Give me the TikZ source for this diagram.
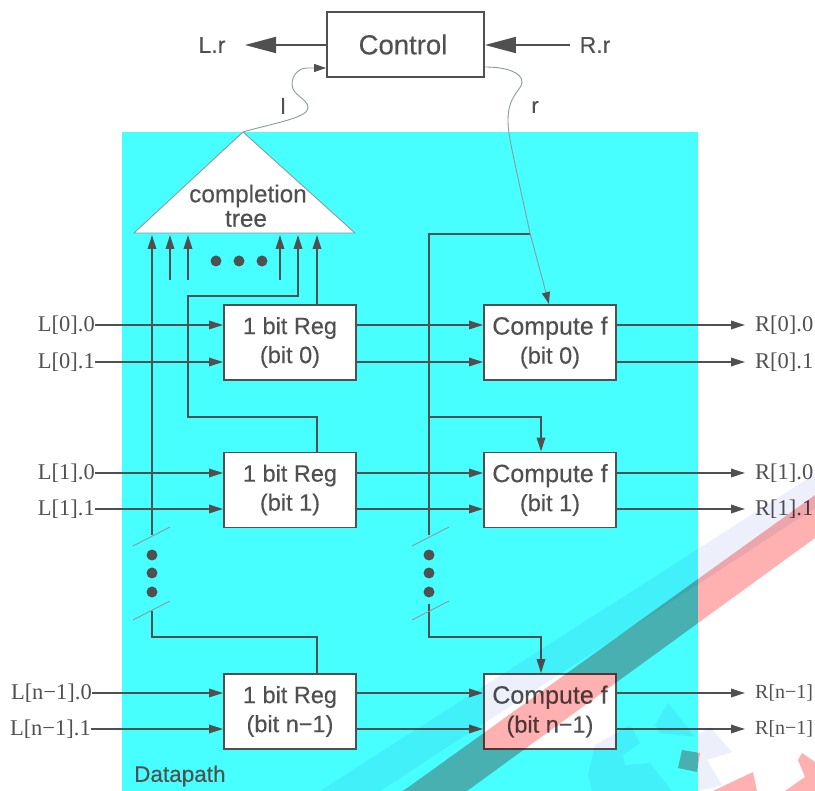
\documentclass[tikz,border=0pt]{standalone}
\usepackage{fontspec}
\setmainfont{Liberation Sans}[FakeBold=0.3]
\newfontfamily\serifL{Liberation Serif}
\usetikzlibrary{arrows.meta,calc}
\definecolor{cy}{HTML}{48FFFF}
\definecolor{ink}{HTML}{505050}
\definecolor{thin}{HTML}{8A9A9A}
\definecolor{wmred}{HTML}{FFB0B0}
\definecolor{wmpale}{HTML}{EDF0FA}
\tikzset{
  sig/.style={draw=ink,line width=1.8pt,-{Triangle[length=14pt,width=8.5pt]}},
  bus/.style={draw=ink,line width=1.8pt},
  bigar/.style={draw=ink,line width=1.8pt,-{Triangle[length=31pt,width=16pt]}},
  wire/.style={draw=thin,line width=0.9pt},
  wirear/.style={wire,-{Triangle[length=12pt,width=8pt,color=ink]}},
  slash/.style={draw=thin,line width=0.9pt},
  bx/.style={draw=ink,fill=white,line width=1.9pt,minimum width=132pt,minimum height=75pt,inner sep=0pt,
    text=ink,align=center,font=\fontsize{23.5}{29}\selectfont},
  dotn/.style={circle,fill=ink,draw=none,minimum size=11pt,inner sep=0pt},
  lab/.style={text=ink,inner sep=0pt,font=\fontsize{24.3}{23}\selectfont},
  io/.style={text=ink,inner sep=0pt,font=\serifL\fontsize{22.5}{24}\selectfont},
}
\begin{document}
\begin{tikzpicture}[x=1pt,y=-1pt]
\useasboundingbox (0,0) rectangle (815,791);
\fill[cy] (122,132) rectangle (698,791);
% completion tree
\coordinate (apex) at (243,132);
\coordinate (bl) at (134,233);
\coordinate (br) at (355,233);
\filldraw[fill=white,draw=thin,line width=0.9pt] (apex) -- (br) -- (bl) -- cycle;
\node[lab] (tree1) at (248,196) {completion};
\node[lab] (tree2) at (246,219) {tree};
\node[draw=ink,fill=white,line width=1.9pt,minimum width=157pt,minimum height=65pt,inner sep=0pt,text=ink,
  font=\fontsize{27.5}{28}\selectfont] (ctrl) at (405.5,44.5) {Control\kern 5pt};
% boxes
\foreach \n/\y/\t in {0/342.5/bit 0,1/490/bit 1,2/711.5/bit n−1}{
  \node[bx] (reg\n) at (290,\y) {1 bit Reg\\(\t)};
  \node[bx,font=\fontsize{25}{29}\selectfont] (cmp\n) at (550,\y) {Compute f\\\fontsize{23.5}{29}\selectfont(\t)};
}
% io labels
\node[io,anchor=east] (L00) at (95,325) {L[0].0};
\node[io,anchor=east] (L01) at (95,362) {L[0].1};
\node[io,anchor=east] (L10) at (95,473) {L[1].0};
\node[io,anchor=east] (L11) at (95,509) {L[1].1};
\node[io,anchor=east] (L20) at (92,693) {L[n−1].0};
\node[io,anchor=east] (L21) at (91,729) {L[n−1].1};
\node[io,anchor=west] (R00) at (755,325) {R[0].0};
\node[io,anchor=west] (R01) at (755,362) {R[0].1};
\node[io,anchor=west] (R10) at (755,473) {R[1].0};
\node[io,anchor=west] (R11) at (755,509) {R[1].1};
\node[io,anchor=west,font=\serifL\fontsize{20}{24}\selectfont] (R20) at (755,693) {R[n−1]};
\node[io,anchor=west,font=\serifL\fontsize{20}{24}\selectfont] (R21) at (755,729) {R[n−1]};
% horizontal signals
\foreach \r/\a/\b in {0/0/1,1/0/1,2/0/1}{
  \draw[sig] (L\r\a.east) -- (L\r\a.east -| reg\r.west);
  \draw[sig] (L\r\b.east) -- (L\r\b.east -| reg\r.west);
  \draw[sig] (L\r\a.east -| reg\r.east) -- (L\r\a.east -| cmp\r.west);
  \draw[sig] (L\r\b.east -| reg\r.east) -- (L\r\b.east -| cmp\r.west);
  \draw[sig] (L\r\a.east -| cmp\r.east) -- (745,0 |- L\r\a.east);
  \draw[sig] (L\r\b.east -| cmp\r.east) -- (745,0 |- L\r\b.east);
}
% completion tree inputs
\coordinate (a1) at (152,235); \coordinate (a2) at (170,235); \coordinate (a3) at (188,235);
\coordinate (a4) at (280,235); \coordinate (a5) at (298,235); \coordinate (a6) at (317,235);
\coordinate (s2) at (170,280); \coordinate (s3) at (188,280); \coordinate (s4) at (280,280);
\draw[sig] (s2) -- (a2);
\draw[sig] (s3) -- (a3);
\draw[sig] (s4) -- (a4);
\draw[sig] (reg0.north -| a6) -- (a6);
\coordinate (b1) at (298,296); \coordinate (b2) at (188,296);
\coordinate (b3) at (188,417); \coordinate (b4) at (317,417);
\draw[sig] (reg1.north -| b4) -- (b4) -- (b3) -- (b2) -- (b1) -- (a5);
\coordinate (lb1) at (152,535);
\draw[sig] (lb1) -- (a1);
\coordinate (lb2) at (152,611); \coordinate (lb3) at (152,637); \coordinate (lb4) at (317,637);
\draw[bus] (lb2) -- (lb3) -- (lb4) -- (reg2.north -| lb4);
% completion bus to compute
\coordinate (rb0) at (530,234); \coordinate (rb1) at (429,234); \coordinate (rb2) at (429,535);
\draw[bus] (rb0) -- (rb1) -- (rb2);
\coordinate (rb3) at (429,417); \coordinate (rb4) at (541,417);
\draw[sig] (rb3) -- (rb4) -- (cmp1.north -| rb4);
\coordinate (rb5) at (429,604); \coordinate (rb6) at (429,637); \coordinate (rb7) at (541,637);
\draw[sig] (rb5) -- (rb6) -- (rb7) -- (cmp2.north -| rb7);
% slashes
\foreach \x/\k in {133/a,412/b}{
  \coordinate (p\k) at (\x,546); \coordinate (q\k) at ($(\x,546)+(37,-19)$);
  \coordinate (u\k) at (\x,620); \coordinate (v\k) at ($(\x,620)+(37,-19)$);
  \draw[slash] (p\k) -- (q\k);
  \draw[slash] (u\k) -- (v\k);
}
% dots
\node[dotn] (t1) at (216,261) {}; \node[dotn] (t2) at (239,261) {}; \node[dotn] (t3) at (262,261) {};
\foreach \x/\k in {152/l,429/m}{
  \node[dotn] (d1\k) at (\x,555) {};
  \node[dotn] (d2\k) at (\x,573) {};
  \node[dotn] (d3\k) at (\x,592) {};
}
% control signals
\node[lab,font=\fontsize{23}{24}\selectfont] (Lr) at (212,45) {L.r};
\node[lab,font=\fontsize{23}{24}\selectfont] (Rr) at (595,45) {R.r};
\draw[bigar] (ctrl.west |- Lr) -- (245,0 |- Lr);
\draw[bigar] (Rr.west -| 570,0) -- (ctrl.east |- Rr);
\node[lab,font=\fontsize{22}{24}\selectfont] (ll) at (283,106) {l};
\node[lab,font=\fontsize{22}{24}\selectfont] (rl) at (535,107) {r};
\draw[wirear] (apex) .. controls (270,124) and (308,118) .. (308,108)
   .. controls (308,98) and (292,96) .. (292,84)
   .. controls (292,74) and (300,68) .. (307,68) -- (ctrl.west |- 0,68);
\coordinate (cr) at (ctrl.east |- 0,67);
\draw[wire] (cr) .. controls (505,67) and (522,72) .. (522,82)
   .. controls (522,90) and (508,95) .. (508,120)
   .. controls (508,135) and (512,150) .. (530,233);
\draw[wirear] (530,233) -- (cmp0.north -| 549,0);
\node[lab,anchor=west,font=\fontsize{22.5}{24}\selectfont] (dp) at (134,776) {Datapath};
% watermark
\begin{scope}[blend mode=multiply]
  \clip (0,0) rectangle (815,791);
  \fill[wmpale] (320,791) -- (815,474) -- (815,508) -- (380,791) -- cycle;
  \fill[wmred] (403,791) -- (815,495) -- (815,538) -- (467,791) -- cycle;
  \fill[wmred] (682,750) -- (700,753) -- (697,772) -- (678,768) -- cycle;
  \fill[wmred] (713,791) -- (753,772) -- (757,791) -- cycle;
  \fill[wmred] (802,753) -- (815,762) -- (815,791) -- (785,791) -- (805,777) -- (798,760) -- cycle;
  \fill[wmpale] (588,775) -- (595,745) -- (630,725) -- (640,743) -- (623,755) -- (625,765) -- (650,763) -- (672,791) -- (592,791) -- cycle;
  \fill[wmpale] (668,703) -- (695,737) -- (660,733) -- (655,725) -- cycle;
  \fill[wmpale] (698,735) -- (710,727) -- (732,752) -- (707,760) -- (722,785) -- (698,791) -- cycle;
\end{scope}
\end{tikzpicture}
\end{document}
